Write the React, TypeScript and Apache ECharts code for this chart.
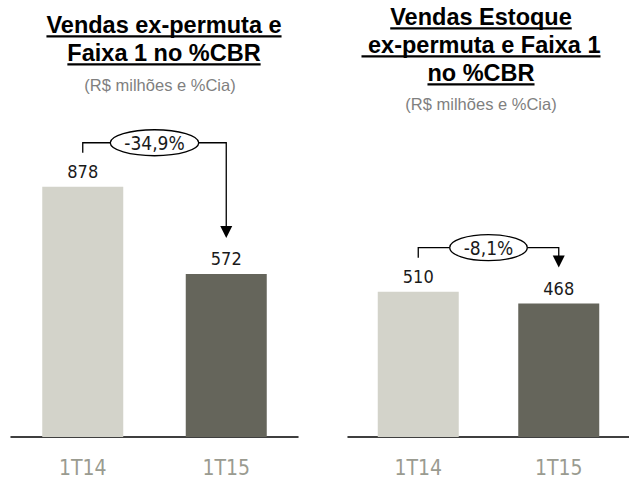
import React, { useEffect, useRef } from "react";
import * as echarts from "echarts";

const categories = ["1T14", "1T15"];
const leftValues = [878, 572];
const rightValues = [510, 468];
const leftChange = "-34,9%";
const rightChange = "-8,1%";
const leftTitle = ["Vendas ex-permuta e", "Faixa 1 no %CBR"];
const rightTitle = ["Vendas Estoque", " ex-permuta e Faixa 1", "no %CBR"];
const subtitle = "(R$ milhões e %Cia)";

const LIGHT = "#d3d3ca";
const DARK = "#65655b";
const TITLE_FONT_SIZE = 23.5;
const TITLE_FONT = `bold ${TITLE_FONT_SIZE}px "Liberation Sans", Arial, sans-serif`;
const NUM_FAMILY = '"DejaVu Sans Condensed", "DejaVu Sans", sans-serif';

function measure(text: string, font: string): number {
  const c = document.createElement("canvas").getContext("2d");
  if (!c) return text.length * 10;
  c.font = font;
  return c.measureText(text).width;
}

export default function App() {
  const ref = useRef<HTMLDivElement>(null);
  useEffect(() => {
    if (!ref.current) return;
    const chart = echarts.init(ref.current, null, { renderer: "svg" });
    const mkGridAxes = (i: number) => ({
      x: {
        type: "category",
        gridIndex: i,
        data: categories,
        axisLine: { show: true, lineStyle: { color: "#000", width: 1.5 } },
        axisTick: { show: false },
        axisLabel: { color: "#9a9b90", fontSize: 21, fontFamily: NUM_FAMILY, margin: 20 },
      },
      y: { type: "value", gridIndex: i, min: 0, max: 1000, show: false, splitLine: { show: false } },
    });
    const a0 = mkGridAxes(0);
    const a1 = mkGridAxes(1);
    const mkSeries = (i: number, vals: number[]) => ({
      type: "bar",
      xAxisIndex: i,
      yAxisIndex: i,
      barWidth: 81,
      data: vals.map((v, k) => ({ value: v, itemStyle: { color: k === 0 ? LIGHT : DARK } })),
      label: {
        show: true,
        position: "top",
        distance: 6,
        color: "#1a1a1a",
        fontSize: 18,
        fontFamily: NUM_FAMILY,
      },
    });
    chart.setOption({
      animation: false,
      grid: [
        { left: 11, width: 287, top: 152, height: 285 },
        { left: 348, width: 287, top: 152, height: 285 },
      ],
      xAxis: [a0.x, a1.x],
      yAxis: [a0.y, a1.y],
      series: [mkSeries(0, leftValues), mkSeries(1, rightValues)],
    });

    const elements: any[] = [];
    const addTitle = (lines: string[], cx: number, ys: number[], subX: number, subY: number) => {
      lines.forEach((t, k) => {
        elements.push({
          type: "text",
          x: cx,
          y: ys[k],
          style: { text: t, font: TITLE_FONT, fill: "#000", align: "center", verticalAlign: "middle" },
        });
        const w = measure(t, TITLE_FONT);
        const uy = ys[k] + TITLE_FONT_SIZE * 0.48;
        elements.push({
          type: "line",
          shape: { x1: cx - w / 2, y1: uy, x2: cx + w / 2, y2: uy },
          style: { stroke: "#000", lineWidth: 2.2 },
        });
      });
      elements.push({
        type: "text",
        x: subX,
        y: subY,
        style: {
          text: subtitle,
          font: '16.5px "Liberation Sans", Arial, sans-serif',
          fill: "#7f7f7f",
          align: "center",
          verticalAlign: "middle",
        },
      });
    };
    addTitle(leftTitle, 164, [25, 53], 160, 85);
    addTitle(rightTitle, 481, [17, 45, 73], 481, 104);

    const addAnnot = (gi: number, vals: number[], label: string) => {
      const p1 = chart.convertToPixel({ gridIndex: gi } as any, [0, vals[0]]) as number[];
      const p2 = chart.convertToPixel({ gridIndex: gi } as any, [1, vals[1]]) as number[];
      const x1 = p1[0];
      const x2 = p2[0];
      const lineY = p1[1] - 44;
      const startY = p1[1] - 34;
      const tipY = p2[1] - 36;
      const font = `19px ${NUM_FAMILY}`;
      const rx = measure(label, font) / 2 + 14;
      const ry = 13;
      const cx = (x1 + x2) / 2;
      const stroke = { stroke: "#000", lineWidth: 1.3, fill: "none" };
      elements.push({
        type: "polyline",
        shape: { points: [[x1, startY], [x1, lineY], [cx - rx, lineY]] },
        style: stroke,
      });
      elements.push({
        type: "polyline",
        shape: { points: [[cx + rx, lineY], [x2, lineY], [x2, tipY - 10]] },
        style: stroke,
      });
      elements.push({
        type: "polygon",
        shape: { points: [[x2 - 6, tipY - 12], [x2 + 6, tipY - 12], [x2, tipY]] },
        style: { fill: "#000" },
      });
      elements.push({
        type: "ellipse",
        shape: { cx, cy: lineY, rx, ry },
        style: { fill: "#fff", stroke: "#000", lineWidth: 1.3 },
      });
      elements.push({
        type: "text",
        x: cx,
        y: lineY,
        style: { text: label, font, fill: "#1a1a1a", align: "center", verticalAlign: "middle" },
      });
    };
    addAnnot(0, leftValues, leftChange);
    addAnnot(1, rightValues, rightChange);

    chart.setOption({ graphic: { elements } });
    return () => chart.dispose();
  }, []);
  return (
    <div
      ref={ref}
      style={{ position: "fixed", left: 0, top: 0, width: 629, height: 484, background: "#fff" }}
    />
  );
}
